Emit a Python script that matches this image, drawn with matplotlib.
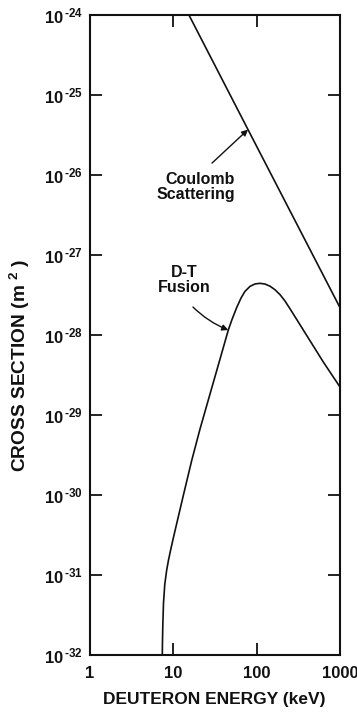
import matplotlib
matplotlib.use("Agg")
import matplotlib.pyplot as plt
from matplotlib.ticker import FixedLocator, FixedFormatter, NullLocator

plt.rcParams["font.family"] = ["Liberation Sans", "DejaVu Sans"]
plt.rcParams["font.weight"] = "bold"
plt.rcParams["mathtext.fontset"] = "custom"
plt.rcParams["mathtext.rm"] = "Liberation Sans:bold"
plt.rcParams["mathtext.bf"] = "Liberation Sans:bold"
plt.rcParams["mathtext.it"] = "Liberation Sans:bold"
plt.rcParams["mathtext.default"] = "rm"

# Coulomb scattering cross section (deuteron energy in keV, sigma in m^2)
coulomb_energy = [15.4, 78.7, 1000.0]
coulomb_sigma = [1.0e-24, 3.7e-26, 2.2e-28]

# D-T fusion cross section
fusion_energy = [7.374, 7.395, 7.477, 7.621, 7.900, 8.326, 8.750, 9.247,
                 9.991, 11.38, 13.17, 16.61, 20.89, 27.54, 35.32, 45.67,
                 50.58, 57.62, 64.89, 72.46, 83.20, 95.52, 109.7, 126.0,
                 144.6, 166.0, 190.6, 218.8, 251.2, 362.9, 630.5, 1000.0]
fusion_sigma = [1.0e-32, 1.33e-32, 2.37e-32, 4.47e-32, 7.72e-32, 1.155e-31,
                1.54e-31, 2.02e-31, 2.90e-31, 5.16e-31, 9.86e-31, 2.70e-30,
                6.68e-30, 1.83e-29, 4.52e-29, 1.155e-28, 1.563e-28, 2.21e-28,
                2.90e-28, 3.52e-28, 4.06e-28, 4.35e-28, 4.43e-28, 4.34e-28,
                4.08e-28, 3.68e-28, 3.20e-28, 2.66e-28, 2.13e-28, 1.155e-28,
                4.6e-29, 2.24e-29]

x_ticks = [1, 10, 100, 1000]
x_tick_labels = ["1", "10", "100", "1000"]
y_exponents = [-32, -31, -30, -29, -28, -27, -26, -25, -24]

fig = plt.figure(figsize=(3.57, 7.13), dpi=100)
ax = fig.add_axes([0.2521, 0.0813, 0.7003, 0.8976])
ax.set_xscale("log")
ax.set_yscale("log")
ax.set_xlim(1, 1000)
ax.set_ylim(1e-32, 1e-24)

line_kw = dict(color="#111111", lw=1.2, solid_capstyle="butt",
               solid_joinstyle="round")
ax.plot(coulomb_energy, coulomb_sigma, **line_kw)
ax.plot(fusion_energy, fusion_sigma, **line_kw)

# axes frame and ticks
for sp in ax.spines.values():
    sp.set_linewidth(1.5)
    sp.set_color("#111111")

ax.xaxis.set_major_locator(FixedLocator(x_ticks))
ax.xaxis.set_major_formatter(FixedFormatter(x_tick_labels))
ax.xaxis.set_minor_locator(NullLocator())
y_ticks = [10.0 ** e for e in y_exponents]
ax.yaxis.set_major_locator(FixedLocator(y_ticks))
ax.yaxis.set_major_formatter(FixedFormatter(
    [r"$10^{\,\text{-}%d}$" % abs(e) for e in y_exponents]))
ax.yaxis.set_minor_locator(NullLocator())

ax.tick_params(which="major", direction="in", length=8.5, width=1.3,
               top=True, right=True, color="#111111", labelsize=12,
               labelcolor="#111111")
ax.tick_params(axis="x", pad=8)
ax.tick_params(axis="y", pad=5)

ax.set_xlabel("DEUTERON ENERGY (keV)", fontsize=12.5, fontweight="bold",
              color="#111111")
ax.xaxis.set_label_coords(0.496, -0.058)
ax.set_ylabel(r"CROSS SECTION (m $^{2}$ )", fontsize=13.8,
              fontweight="bold", color="#111111")
ax.yaxis.set_label_coords(-0.232, 0.452)

# curve labels with pointer arrows
ax.text(55, 7.1e-27, "Coulomb\nScattering", ha="right", va="center",
        multialignment="right", fontsize=11.5, fontweight="bold",
        linespacing=1.05, color="#111111")
ax.annotate("", xy=(coulomb_energy[1], coulomb_sigma[1]),
            xytext=(29.1, 1.41e-26),
            arrowprops=dict(arrowstyle="-|>", color="#111111", lw=1.0,
                            mutation_scale=9, shrinkA=0, shrinkB=0))

ax.text(13.4, 4.9e-28, "D-T\nFusion", ha="center", va="center",
        multialignment="center", fontsize=11.5, fontweight="bold",
        linespacing=1.05, color="#111111")
ax.annotate("", xy=(fusion_energy[15], fusion_sigma[15]),
            xytext=(17.2, 2.24e-28),
            arrowprops=dict(arrowstyle="-|>", color="#111111", lw=1.0,
                            mutation_scale=9, shrinkA=0, shrinkB=0,
                            connectionstyle="arc3,rad=0.1"))

fig.savefig("out.png", dpi=100)
